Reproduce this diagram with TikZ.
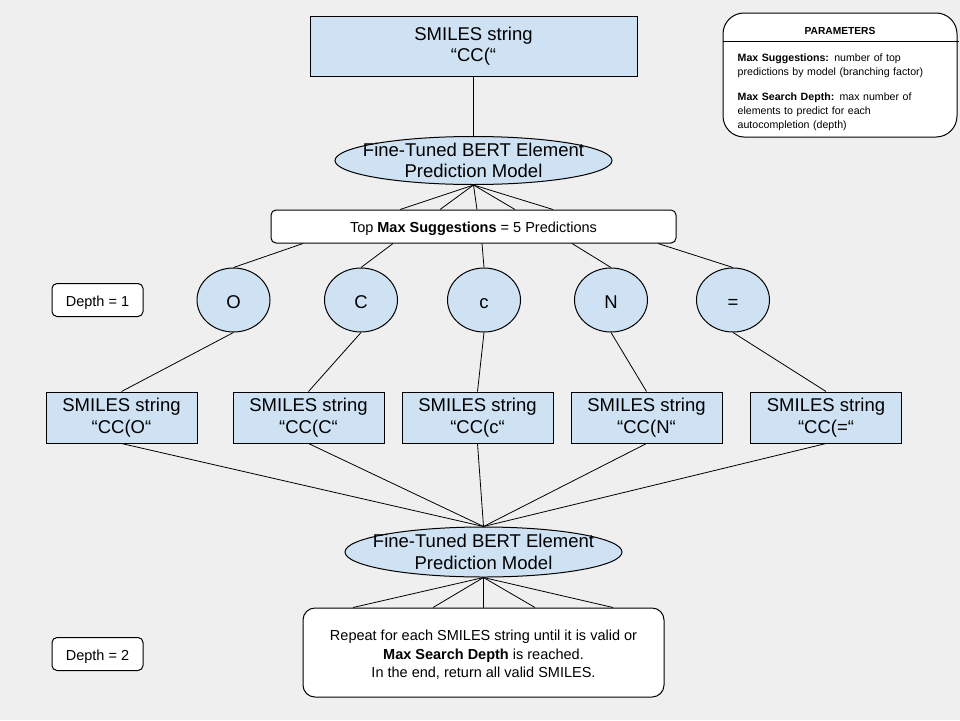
\documentclass[tikz,border=0pt]{standalone}
\usepackage{fontspec}
\setmainfont{Liberation Sans}
\usetikzlibrary{shapes.geometric,positioning}
\definecolor{lblue}{HTML}{CFE2F3}
\definecolor{bgray}{HTML}{EFEFEF}

\begin{document}
\begin{tikzpicture}[%
    x=1pt, y=1pt,                      % One unit is one pixel of the sketch
    every node/.style={inner sep=0pt}, % Boxes get their size from minimum width/height
    ]
% -------------------------------------------------
% A few box styles
\tikzset{
  base/.style={draw, on grid, align=center, line width=1pt},
  big/.style={font=\fontsize{18.5}{21.5}\selectfont},
  mid/.style={font=\fontsize{14.5}{18.3}\selectfont},
  sml/.style={font=\fontsize{10.6}{14}\selectfont},
  str/.style={base, big, rectangle, fill=lblue, minimum width=151pt, minimum height=51pt},
  model/.style={base, ellipse, fill=lblue, minimum width=277pt, minimum height=48pt},
  elem/.style={base, big, ellipse, fill=lblue, minimum width=73pt, minimum height=64pt,
    text height=16pt, text depth=0pt},
  note/.style={base, mid, rectangle, rounded corners=5pt, fill=white, minimum height=33pt},
  line/.style={text height=12pt, text depth=0pt},
  % Connector line style
  cn/.style={draw, line width=0.8pt},
}
\fill[bgray] (0,0) rectangle (960,-720);
\useasboundingbox (0,0) rectangle (960,-720);
% -------------------------------------------------
% Start by placing the nodes

\node [str, minimum width=327pt, minimum height=60pt] (a) at (473.5,-46) {SMILES string\\“CC(“};
\node [model, below=114.5pt of a, label={[big,align=center]center:Fine-Tuned BERT Element\\Prediction Model}] (b) {};
\node [note, line, minimum width=405pt, below=66pt of b] (c) {Top \textbf{Max Suggestions} = 5 Predictions};
\node [elem, below=73.5pt of c, xshift=-240pt] (d) {O};
\node [elem, below=73.5pt of c, xshift=-112.5pt] (e) {C};
\node [elem, below=73.5pt of c, xshift=10.5pt] (f) {c};
\node [elem, below=73.5pt of c, xshift=137.5pt] (g) {N};
\node [elem, below=73.5pt of c, xshift=259.5pt] (h) {=};
\node [note, line, minimum width=91pt, left=136pt of d] (k) {Depth = 1};
\node [str, below=117.5pt of d, xshift=-112pt] (s1) {SMILES string\\“CC(O“};
\node [str, below=117.5pt of e, xshift=-52.5pt] (s2) {SMILES string\\“CC(C“};
\node [str, below=117.5pt of f, xshift=-6.5pt] (s3) {SMILES string\\“CC(c“};
\node [str, below=117.5pt of g, xshift=35.5pt] (s4) {SMILES string\\“CC(N“};
\node [str, below=117.5pt of h, xshift=93pt] (s5) {SMILES string\\“CC(=“};
\node [model, below=134.5pt of s3, xshift=6pt, minimum height=50pt, label={[big,align=center]center:Fine-Tuned BERT Element\\Prediction Model}] (m) {};
\node [note, rounded corners=12pt, minimum width=361pt, minimum height=89pt, below=100.5pt of m] (r) {\rule{0pt}{15pt}Repeat for each SMILES string until it is valid or\\\textbf{Max Search Depth} is reached.\\In the end, return all valid SMILES.};
\node [note, line, minimum width=91pt, left=386pt of r, yshift=-1.5pt] (l) {Depth = 2};

% Parameters legend
\node [base, rounded corners=21pt, fill=white, minimum width=234pt, minimum height=124pt] (p) at (840,-75) {};
\node [on grid, below=15pt of p.north, font=\bfseries\fontsize{10.2}{12}\selectfont] (pt) {PARAMETERS};
\node [sml, anchor=north west, text width=210pt, align=left] (pb) at ([xshift=15pt,yshift=-41pt]p.north west)
  {\textbf{Max Suggestions:} number of top\\predictions by model (branching factor)\\[11pt]\textbf{Max Search Depth:} max number of\\elements to predict for each\\autocompletion (depth)};
\draw[cn] ([yshift=-29pt]p.north west) to ([yshift=-29pt,xshift=1pt]p.north east);		%Parameters,rule

% -------------------------------------------------
\draw[cn] (a) to (b);		%Start string,Model
\draw[cn] (b.south) to ([xshift=-73.5pt]c.north);		%Model,Top predictions,1
\draw[cn] (b.south) to ([xshift=-33.5pt]c.north);		%Model,Top predictions,2
\draw[cn] (b.south) to ([xshift=3.5pt]c.north);		%Model,Top predictions,3
\draw[cn] (b.south) to ([xshift=41.5pt]c.north);		%Model,Top predictions,4
\draw[cn] (b.south) to ([xshift=79.5pt]c.north);		%Model,Top predictions,5
\draw[cn] ([xshift=-170.5pt]c.south) to (d.north);		%Top predictions,O
\draw[cn] ([xshift=-80.5pt]c.south) to (e.north);		%Top predictions,C
\draw[cn] ([xshift=8.5pt]c.south) to (f.north);		%Top predictions,c
\draw[cn] ([xshift=98.5pt]c.south) to (g.north);		%Top predictions,N
\draw[cn] ([xshift=184.5pt]c.south) to (h.north);		%Top predictions,=
\draw[cn] (d.south) to (s1.north);		%O,CC(O
\draw[cn] (e.south) to (s2.north);		%C,CC(C
\draw[cn] (f.south) to (s3.north);		%c,CC(c
\draw[cn] (g.south) to (s4.north);		%N,CC(N
\draw[cn] (h.south) to (s5.north);		%=,CC(=
\draw[cn] (s1.south) to (m.north);		%CC(O,Model
\draw[cn] (s2.south) to (m.north);		%CC(C,Model
\draw[cn] (s3.south) to (m.north);		%CC(c,Model
\draw[cn] (s4.south) to (m.north);		%CC(N,Model
\draw[cn] (s5.south) to (m.north);		%CC(=,Model
\draw[cn] (m.south) to ([xshift=-130.5pt]r.north);		%Model,Repeat,1
\draw[cn] (m.south) to ([xshift=-50.5pt]r.north);		%Model,Repeat,2
\draw[cn] (m.south) to (r.north);		%Model,Repeat,3
\draw[cn] (m.south) to ([xshift=51.5pt]r.north);		%Model,Repeat,4
\draw[cn] (m.south) to ([xshift=129.5pt]r.north);		%Model,Repeat,5

% -------------------------------------------------
\end{tikzpicture}
\end{document}
